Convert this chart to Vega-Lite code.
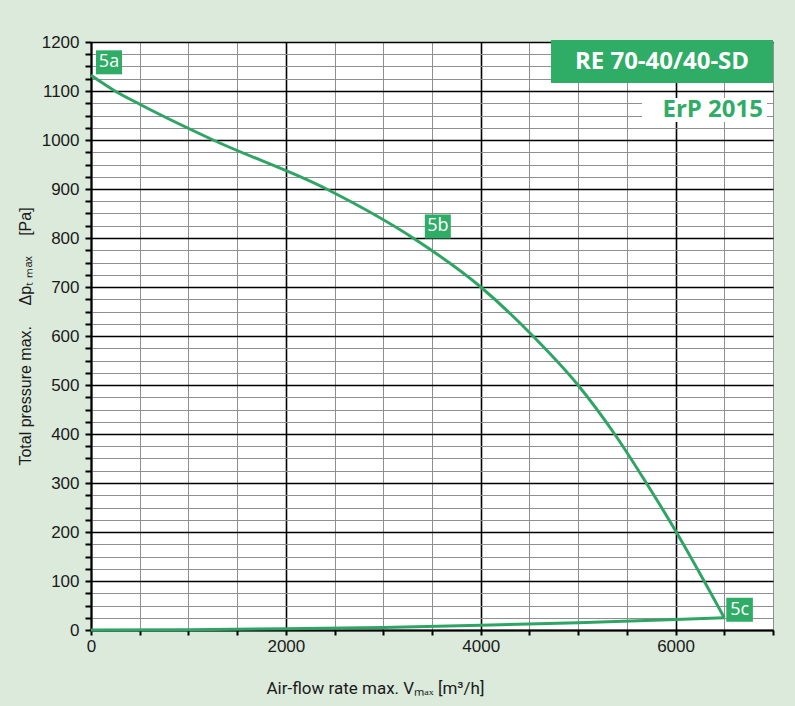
{
  "$schema": "https://vega.github.io/schema/vega-lite/v6.json",
  "width": 682,
  "height": 588,
  "autosize": {"type": "none"},
  "padding": {"left": 91, "top": 42, "right": 22, "bottom": 76},
  "background": "#dbeadb",
  "view": {"fill": "white", "stroke": null},
  "config": {
    "font": "Liberation Sans",
    "axis": {
      "labelFlush": false,
      "labelOverlap": false,
      "labelFontSize": 17,
      "labelColor": "#1a1a1a",
      "tickWidth": 2,
      "tickColor": "#000000",
      "domainColor": "#000000",
      "domainWidth": 2,
      "titleFontSize": 16,
      "titleFontWeight": "normal",
      "titleColor": "#1a1a1a",
      "titleAlign": "center",
      "titleBaseline": "middle"
    }
  },
  "datasets": {
    "curves": [
      {"line": "fan", "flow": 0, "pressure": 1132},
      {"line": "fan", "flow": 246, "pressure": 1100},
      {"line": "fan", "flow": 500, "pressure": 1073},
      {"line": "fan", "flow": 1254, "pressure": 1000},
      {"line": "fan", "flow": 2417, "pressure": 900},
      {"line": "fan", "flow": 3306, "pressure": 800},
      {"line": "fan", "flow": 4000, "pressure": 700},
      {"line": "fan", "flow": 4536, "pressure": 600},
      {"line": "fan", "flow": 4998, "pressure": 500},
      {"line": "fan", "flow": 5374, "pressure": 400},
      {"line": "fan", "flow": 5700, "pressure": 300},
      {"line": "fan", "flow": 6007, "pressure": 200},
      {"line": "fan", "flow": 6500, "pressure": 25},
      {"line": "system", "flow": 0, "pressure": 0},
      {"line": "system", "flow": 1000, "pressure": 0.6},
      {"line": "system", "flow": 2000, "pressure": 2.4},
      {"line": "system", "flow": 3000, "pressure": 5.3},
      {"line": "system", "flow": 4000, "pressure": 9.5},
      {"line": "system", "flow": 5000, "pressure": 14.8},
      {"line": "system", "flow": 6000, "pressure": 21.3},
      {"line": "system", "flow": 6500, "pressure": 25}
    ],
    "labels": [
      {"label": "5a", "flow": 0, "pressure": 1132},
      {"label": "5b", "flow": 3375, "pressure": 797},
      {"label": "5c", "flow": 6500, "pressure": 25}
    ],
    "titles": [
      {"text": "RE 70-40/40-SD"},
      {"text": "ErP 2015"}
    ]
  },
  "layer": [
    {
      "data": {"name": "curves"},
      "mark": {"type": "line", "color": "#2ea564", "strokeWidth": 3, "interpolate": "monotone"},
      "encoding": {
        "x": {
          "field": "flow", "type": "quantitative",
          "scale": {"domain": [0, 7000], "nice": false, "zero": false},
          "axis": {
            "orient": "bottom",
            "values": [0, 500, 1000, 1500, 2000, 2500, 3000, 3500, 4000, 4500, 5000, 5500, 6000, 6500, 7000],
            "format": "d",
            "labelExpr": "datum.value % 2000 === 0 ? datum.label : ''",
            "labelPadding": 3,
            "tickSize": 5,
            "gridColor": {"condition": {"test": "datum.value % 2000 === 0", "value": "#000000"}, "value": "#8f8f8f"},
            "gridWidth": {"condition": {"test": "datum.value % 2000 === 0", "value": 1.6}, "value": 1},
            "title": "Air-flow rate max. Vₘₐₓ [m³/h]",
            "titleFont": "Roboto",
            "titleFontSize": 17,
            "titleX": 284,
            "titleY": 58
          }
        },
        "y": {
          "field": "pressure", "type": "quantitative",
          "scale": {"domain": [0, 1200], "nice": false},
          "axis": {
            "orient": "left",
            "values": [0, 25, 50, 75, 100, 125, 150, 175, 200, 225, 250, 275, 300, 325, 350, 375, 400, 425, 450, 475, 500, 525, 550, 575, 600, 625, 650, 675, 700, 725, 750, 775, 800, 825, 850, 875, 900, 925, 950, 975, 1000, 1025, 1050, 1075, 1100, 1125, 1150, 1175, 1200],
            "format": "d",
            "labelExpr": "datum.value % 100 === 0 ? datum.label : ''",
            "labelPadding": 6,
            "tickSize": 6,
            "gridColor": {"condition": {"test": "datum.value % 100 === 0", "value": "#000000"}, "value": "#8f8f8f"},
            "gridWidth": {"condition": {"test": "datum.value % 100 === 0", "value": 1.6}, "value": 1},
            "title": "Total pressure max.\u2003 Δpₜ ₘₐₓ\u2003 [Pa]",
            "titleAngle": 270,
            "titleX": -66,
            "titleY": 294
          }
        },
        "detail": {"field": "line"}
      }
    },
    {
      "data": {"name": "labels"},
      "transform": [{"filter": "datum.label !== '5c'"}],
      "mark": {"type": "point", "shape": "M5,-25H31V-1H5Z", "size": 4, "filled": true, "opacity": 1, "color": "#2fac66", "strokeWidth": 0},
      "encoding": {
        "x": {"field": "flow", "type": "quantitative", "axis": {"orient": "bottom", "values": [0, 500, 1000, 1500, 2000, 2500, 3000, 3500, 4000, 4500, 5000, 5500, 6000, 6500, 7000]}},
        "y": {"field": "pressure", "type": "quantitative", "axis": {"orient": "left", "values": [0, 25, 50, 75, 100, 125, 150, 175, 200, 225, 250, 275, 300, 325, 350, 375, 400, 425, 450, 475, 500, 525, 550, 575, 600, 625, 650, 675, 700, 725, 750, 775, 800, 825, 850, 875, 900, 925, 950, 975, 1000, 1025, 1050, 1075, 1100, 1125, 1150, 1175, 1200]}}
      }
    },
    {
      "data": {"name": "labels"},
      "transform": [{"filter": "datum.label !== '5c'"}],
      "mark": {"type": "text", "font": "Open Sans", "fontSize": 18, "color": "white", "align": "center", "baseline": "middle", "dx": 18, "dy": -13},
      "encoding": {
        "x": {"field": "flow", "type": "quantitative", "axis": {"orient": "bottom", "values": [0, 500, 1000, 1500, 2000, 2500, 3000, 3500, 4000, 4500, 5000, 5500, 6000, 6500, 7000]}},
        "y": {"field": "pressure", "type": "quantitative", "axis": {"orient": "left", "values": [0, 25, 50, 75, 100, 125, 150, 175, 200, 225, 250, 275, 300, 325, 350, 375, 400, 425, 450, 475, 500, 525, 550, 575, 600, 625, 650, 675, 700, 725, 750, 775, 800, 825, 850, 875, 900, 925, 950, 975, 1000, 1025, 1050, 1075, 1100, 1125, 1150, 1175, 1200]}},
        "text": {"field": "label"}
      }
    },
    {
      "data": {"name": "labels"},
      "transform": [{"filter": "datum.label === '5c'"}],
      "mark": {"type": "point", "shape": "M2,-20H28.6V4H2Z", "size": 4, "filled": true, "opacity": 1, "color": "#2fac66", "strokeWidth": 0},
      "encoding": {
        "x": {"field": "flow", "type": "quantitative", "axis": {"orient": "bottom", "values": [0, 500, 1000, 1500, 2000, 2500, 3000, 3500, 4000, 4500, 5000, 5500, 6000, 6500, 7000]}},
        "y": {"field": "pressure", "type": "quantitative", "axis": {"orient": "left", "values": [0, 25, 50, 75, 100, 125, 150, 175, 200, 225, 250, 275, 300, 325, 350, 375, 400, 425, 450, 475, 500, 525, 550, 575, 600, 625, 650, 675, 700, 725, 750, 775, 800, 825, 850, 875, 900, 925, 950, 975, 1000, 1025, 1050, 1075, 1100, 1125, 1150, 1175, 1200]}}
      }
    },
    {
      "data": {"name": "labels"},
      "transform": [{"filter": "datum.label === '5c'"}],
      "mark": {"type": "text", "font": "Open Sans", "fontSize": 18, "color": "white", "align": "center", "baseline": "middle", "dx": 15.3, "dy": -8},
      "encoding": {
        "x": {"field": "flow", "type": "quantitative", "axis": {"orient": "bottom", "values": [0, 500, 1000, 1500, 2000, 2500, 3000, 3500, 4000, 4500, 5000, 5500, 6000, 6500, 7000]}},
        "y": {"field": "pressure", "type": "quantitative", "axis": {"orient": "left", "values": [0, 25, 50, 75, 100, 125, 150, 175, 200, 225, 250, 275, 300, 325, 350, 375, 400, 425, 450, 475, 500, 525, 550, 575, 600, 625, 650, 675, 700, 725, 750, 775, 800, 825, 850, 875, 900, 925, 950, 975, 1000, 1025, 1050, 1075, 1100, 1125, 1150, 1175, 1200]}},
        "text": {"field": "label"}
      }
    },
    {
      "data": {"name": "titles"},
      "transform": [{"filter": "datum.text === 'RE 70-40/40-SD'"}],
      "mark": {"type": "point", "shape": "M-222,-2H0V41H-222Z", "size": 4, "filled": true, "opacity": 1, "color": "#2fac66", "strokeWidth": 0},
      "encoding": {
        "x": {"datum": 7000, "type": "quantitative", "axis": {"orient": "bottom", "values": [0, 500, 1000, 1500, 2000, 2500, 3000, 3500, 4000, 4500, 5000, 5500, 6000, 6500, 7000]}},
        "y": {"datum": 1200, "type": "quantitative", "axis": {"orient": "left", "values": [0, 25, 50, 75, 100, 125, 150, 175, 200, 225, 250, 275, 300, 325, 350, 375, 400, 425, 450, 475, 500, 525, 550, 575, 600, 625, 650, 675, 700, 725, 750, 775, 800, 825, 850, 875, 900, 925, 950, 975, 1000, 1025, 1050, 1075, 1100, 1125, 1150, 1175, 1200]}}
      }
    },
    {
      "data": {"name": "titles"},
      "transform": [{"filter": "datum.text === 'RE 70-40/40-SD'"}],
      "mark": {"type": "text", "font": "Open Sans", "fontSize": 24, "fontWeight": "bold", "color": "white", "align": "center", "baseline": "middle", "dx": -111, "dy": 19.5},
      "encoding": {
        "x": {"datum": 7000, "type": "quantitative", "axis": {"orient": "bottom", "values": [0, 500, 1000, 1500, 2000, 2500, 3000, 3500, 4000, 4500, 5000, 5500, 6000, 6500, 7000]}},
        "y": {"datum": 1200, "type": "quantitative", "axis": {"orient": "left", "values": [0, 25, 50, 75, 100, 125, 150, 175, 200, 225, 250, 275, 300, 325, 350, 375, 400, 425, 450, 475, 500, 525, 550, 575, 600, 625, 650, 675, 700, 725, 750, 775, 800, 825, 850, 875, 900, 925, 950, 975, 1000, 1025, 1050, 1075, 1100, 1125, 1150, 1175, 1200]}},
        "text": {"field": "text"}
      }
    },
    {
      "data": {"name": "titles"},
      "transform": [{"filter": "datum.text === 'ErP 2015'"}],
      "mark": {"type": "point", "shape": "M-131,56H-6V80H-131Z", "size": 4, "filled": true, "opacity": 1, "color": "white", "strokeWidth": 0},
      "encoding": {
        "x": {"datum": 7000, "type": "quantitative", "axis": {"orient": "bottom", "values": [0, 500, 1000, 1500, 2000, 2500, 3000, 3500, 4000, 4500, 5000, 5500, 6000, 6500, 7000]}},
        "y": {"datum": 1200, "type": "quantitative", "axis": {"orient": "left", "values": [0, 25, 50, 75, 100, 125, 150, 175, 200, 225, 250, 275, 300, 325, 350, 375, 400, 425, 450, 475, 500, 525, 550, 575, 600, 625, 650, 675, 700, 725, 750, 775, 800, 825, 850, 875, 900, 925, 950, 975, 1000, 1025, 1050, 1075, 1100, 1125, 1150, 1175, 1200]}}
      }
    },
    {
      "data": {"name": "titles"},
      "transform": [{"filter": "datum.text === 'ErP 2015'"}],
      "mark": {"type": "text", "font": "Open Sans", "fontSize": 24, "fontWeight": "bold", "color": "#2fac66", "align": "right", "baseline": "middle", "dx": -10, "dy": 68},
      "encoding": {
        "x": {"datum": 7000, "type": "quantitative", "axis": {"orient": "bottom", "values": [0, 500, 1000, 1500, 2000, 2500, 3000, 3500, 4000, 4500, 5000, 5500, 6000, 6500, 7000]}},
        "y": {"datum": 1200, "type": "quantitative", "axis": {"orient": "left", "values": [0, 25, 50, 75, 100, 125, 150, 175, 200, 225, 250, 275, 300, 325, 350, 375, 400, 425, 450, 475, 500, 525, 550, 575, 600, 625, 650, 675, 700, 725, 750, 775, 800, 825, 850, 875, 900, 925, 950, 975, 1000, 1025, 1050, 1075, 1100, 1125, 1150, 1175, 1200]}},
        "text": {"field": "text"}
      }
    }
  ]
}
